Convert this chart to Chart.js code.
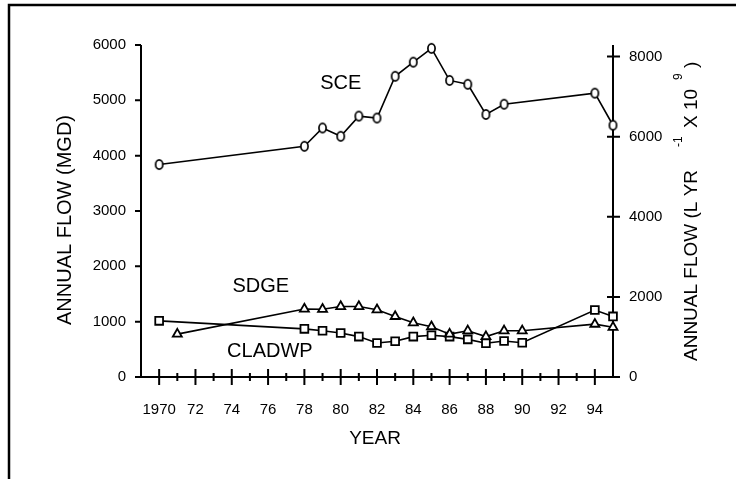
<!DOCTYPE html>
<html><head><meta charset="utf-8">
<script src="https://cdn.jsdelivr.net/npm/chart.js@4/dist/chart.umd.min.js"></script>
<style>html,body{margin:0;padding:0;background:#fff}canvas{display:block}</style>
</head><body>
<canvas id="c" width="736" height="479"></canvas>
<script>
// ---- data (annual flow, MGD) ----
const sceYears    = [1970,1978,1979,1980,1981,1982,1983,1984,1985,1986,1987,1988,1989,1994,1995];
const sceFlow     = [3840,4170,4500,4350,4715,4680,5435,5690,5940,5360,5290,4745,4930,5130,4550];
const sdgeYears   = [1971,1978,1979,1980,1981,1982,1983,1984,1985,1986,1987,1988,1989,1990,1994,1995];
const sdgeFlow    = [775,1230,1225,1275,1275,1215,1095,980,910,775,835,730,835,835,955,900];
const cladwpYears = [1970,1978,1979,1980,1981,1982,1983,1984,1985,1986,1987,1988,1989,1990,1994,1995];
const cladwpFlow  = [1015,870,835,795,730,615,645,730,755,730,680,610,650,620,1210,1095];

const xMajorTicks = [1970,1972,1974,1976,1978,1980,1982,1984,1986,1988,1990,1992,1994];
const xTickLabels = ['1970','72','74','76','78','80','82','84','86','88','90','92','94'];
const xMinorTicks = [1971,1973,1975,1977,1979,1981,1983,1985,1987,1989,1991,1993];
const leftTicks   = [0,1000,2000,3000,4000,5000,6000];
const rightTicks  = [0,2000,4000,6000,8000];
const MGD_TO_GLYR = 1.3816; // 1 MGD = 1.3816 x 10^9 L/yr

const seriesLabels = [
  {text:'SCE',    x:1980.0, y:5300},
  {text:'SDGE',   x:1975.6, y:1635},
  {text:'CLADWP', x:1976.1, y:455}
];

const FONT = '"Liberation Sans", Arial, Helvetica, sans-serif';
const toPts = (xs, ys) => xs.map((x, i) => ({x, y: ys[i]}));

// hollow, slightly tall oval marker like the original plot
function makeOval() {
  const c = document.createElement('canvas');
  c.width = 11; c.height = 13;
  const g = c.getContext('2d');
  g.beginPath();
  g.ellipse(5.5, 6.5, 3.6, 4.6, 0, 0, Math.PI * 2);
  g.fillStyle = '#fff'; g.fill();
  g.lineWidth = 1.7; g.strokeStyle = '#000'; g.stroke();
  return c;
}
const ovalMarker = makeOval();

const decorPlugin = {
  id: 'decor',
  beforeDraw(chart) {
    const ctx = chart.ctx;
    ctx.save();
    ctx.fillStyle = '#fff';
    ctx.fillRect(0, 0, chart.width, chart.height);
    ctx.strokeStyle = '#000';
    ctx.lineWidth = 2.5;
    ctx.beginPath();
    ctx.moveTo(9, chart.height + 2);
    ctx.lineTo(9, 5);
    ctx.lineTo(chart.width + 2, 5);
    ctx.stroke();
    ctx.restore();
  },
  beforeDatasetsDraw(chart) {
    const ctx = chart.ctx, a = chart.chartArea;
    const sx = chart.scales.x, sy = chart.scales.y, sy2 = chart.scales.y2;
    ctx.save();
    ctx.strokeStyle = '#000';
    ctx.lineWidth = 2;
    ctx.lineCap = 'butt';
    ctx.beginPath();
    ctx.moveTo(a.left, a.top); ctx.lineTo(a.left, a.bottom);
    ctx.moveTo(a.left, a.bottom); ctx.lineTo(a.right, a.bottom);
    ctx.moveTo(a.right, a.top); ctx.lineTo(a.right, a.bottom + 1);
    leftTicks.forEach(v => { const y = sy.getPixelForValue(v); ctx.moveTo(a.left - 6, y); ctx.lineTo(a.left, y); });
    rightTicks.forEach(v => { const y = sy2.getPixelForValue(v); ctx.moveTo(a.right - 6, y); ctx.lineTo(a.right + 7, y); });
    xMajorTicks.forEach(v => { const x = sx.getPixelForValue(v); ctx.moveTo(x, a.bottom - 8); ctx.lineTo(x, a.bottom + 8); });
    xMinorTicks.forEach(v => { const x = sx.getPixelForValue(v); ctx.moveTo(x, a.bottom - 4); ctx.lineTo(x, a.bottom + 4); });
    ctx.stroke();
    ctx.restore();
  },
  afterDraw(chart) {
    const ctx = chart.ctx, a = chart.chartArea;
    const sx = chart.scales.x, sy = chart.scales.y;
    ctx.save();
    ctx.fillStyle = '#000';
    ctx.font = '20px ' + FONT;
    ctx.textAlign = 'center';
    ctx.textBaseline = 'middle';
    seriesLabels.forEach(l => ctx.fillText(l.text, sx.getPixelForValue(l.x), sy.getPixelForValue(l.y)));
    ctx.font = '19px ' + FONT;
    ctx.fillText('YEAR', (a.left + a.right) / 2 - 2, 439);
    ctx.save();
    ctx.translate(65, 220);
    ctx.rotate(-Math.PI / 2);
    ctx.font = '20px ' + FONT;
    ctx.fillText('ANNUAL FLOW (MGD)', 0, 0);
    ctx.restore();
    // right title with superscripts (offsets along the text direction)
    ctx.save();
    ctx.translate(692, 361);
    ctx.rotate(-Math.PI / 2);
    ctx.textAlign = 'left';
    ctx.font = '19px ' + FONT;
    ctx.fillText('ANNUAL FLOW (L YR', 0, 0);
    ctx.fillText('X 10', 233, 0);
    ctx.fillText(')', 293, 0);
    ctx.font = '12px ' + FONT;
    ctx.fillText('-1', 214, -13);
    ctx.fillText('9', 281, -13);
    ctx.restore();
    ctx.restore();
  }
};

const lineStyle = {
  borderColor: '#000', borderWidth: 1.6, pointBorderColor: '#000',
  pointBackgroundColor: '#fff', pointBorderWidth: 1.8, tension: 0, clip: false, fill: false
};

new Chart(document.getElementById('c'), {
  type: 'line',
  data: {
    datasets: [
      Object.assign({label: 'SCE', data: toPts(sceYears, sceFlow), pointStyle: ovalMarker, pointRadius: 5, yAxisID: 'y'}, lineStyle),
      Object.assign({label: 'SDGE', data: toPts(sdgeYears, sdgeFlow), pointStyle: 'triangle', pointRadius: 5.2, yAxisID: 'y'}, lineStyle),
      Object.assign({label: 'CLADWP', data: toPts(cladwpYears, cladwpFlow), pointStyle: 'rect', pointRadius: 5.5, yAxisID: 'y'}, lineStyle)
    ]
  },
  options: {
    responsive: false,
    animation: false,
    devicePixelRatio: 1,
    layout: {padding: {top: 45, left: 0, right: 0, bottom: 0}},
    plugins: {legend: {display: false}, tooltip: {enabled: false}, title: {display: false}},
    scales: {
      x: {
        type: 'linear', min: 1969, max: 1995,
        grid: {display: false, drawTicks: false}, border: {display: false},
        afterBuildTicks: s => { s.ticks = xMajorTicks.map(v => ({value: v})); },
        afterFit: s => { s.height = 102; },
        ticks: {autoSkip: false, maxRotation: 0, minRotation: 0, padding: 24, color: '#000',
          font: {family: FONT, size: 15},
          callback: v => xTickLabels[xMajorTicks.indexOf(v)]}
      },
      y: {
        type: 'linear', position: 'left', min: 0, max: 6000,
        grid: {display: false, drawTicks: false}, border: {display: false},
        afterBuildTicks: s => { s.ticks = leftTicks.map(v => ({value: v})); },
        afterFit: s => { s.width = 141; },
        ticks: {padding: 15, color: '#000', font: {family: FONT, size: 15}, callback: v => String(v)}
      },
      y2: {
        type: 'linear', position: 'right', min: 0, max: 6000 * MGD_TO_GLYR,
        grid: {display: false, drawTicks: false}, border: {display: false},
        afterBuildTicks: s => { s.ticks = rightTicks.map(v => ({value: v})); },
        afterFit: s => { s.width = 123; },
        ticks: {padding: 16, color: '#000', font: {family: FONT, size: 15}, callback: v => String(v)}
      }
    }
  },
  plugins: [decorPlugin]
});
</script>
</body></html>
